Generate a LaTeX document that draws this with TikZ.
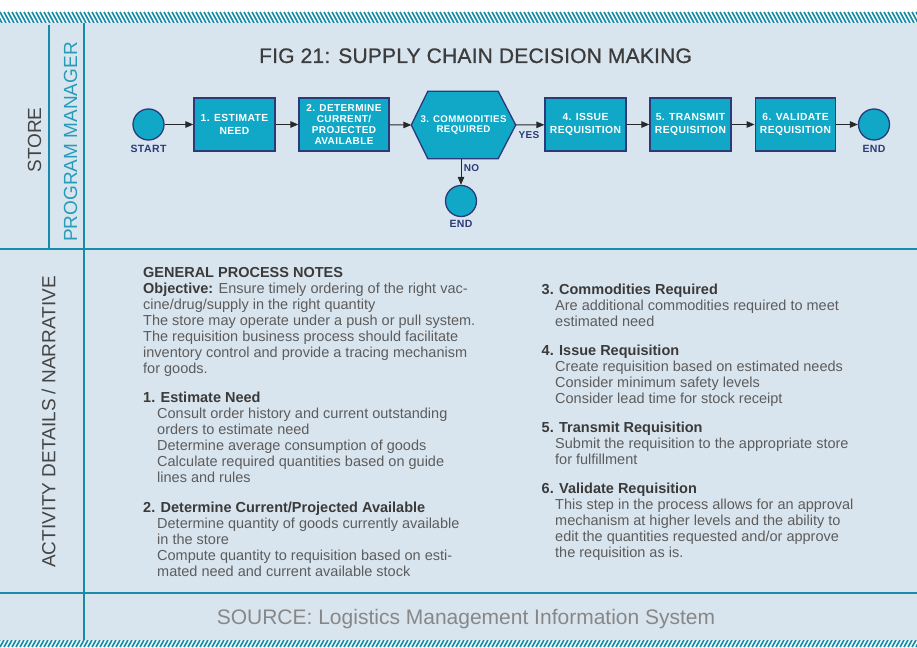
\documentclass[tikz,border=0pt]{standalone}
\usepackage{fontspec}
\setmainfont{Liberation Sans}
\newfontfamily\boxfont[LetterSpace=4]{Liberation Sans}
\newfontfamily\titlefont[LetterSpace=1.0,FakeBold=0.8]{Liberation Sans}
\usetikzlibrary{arrows.meta}
\definecolor{bgblue}{RGB}{217,229,238}
\definecolor{lineteal}{RGB}{22,140,168}
\definecolor{pmteal}{RGB}{40,155,185}
\definecolor{nodefill}{RGB}{16,168,198}
\definecolor{navy}{RGB}{44,58,122}
\definecolor{labelgray}{RGB}{68,68,68}
\definecolor{titlegray}{RGB}{60,60,60}
\definecolor{headgray}{RGB}{58,58,58}
\definecolor{bodygray}{RGB}{92,92,92}
\definecolor{srcgray}{RGB}{135,135,135}
\definecolor{arrowdark}{RGB}{40,40,40}
\begin{document}
\begin{tikzpicture}[x=1pt,y=-1pt,
  hatchline/.style={draw=lineteal, line width=1.7pt},
  gridline/.style={draw=lineteal, line width=2pt},
  lanelabel/.style={rotate=90, inner sep=0, font=\fontsize{19}{22}\selectfont},
  stepbox/.style={rectangle, draw=navy, fill=nodefill, line width=1.3pt, text=white,
    font=\boxfont\bfseries\fontsize{10.3}{12.7}\selectfont, align=center,
    minimum height=53, inner sep=0},
  endpoint/.style={circle, draw=navy, fill=nodefill, line width=1.3pt, minimum size=31, inner sep=0},
  tag/.style={inner sep=0, text=navy, font=\boxfont\bfseries\fontsize{10.5}{12}\selectfont},
  flow/.style={draw=arrowdark, line width=1pt, -{Triangle[length=8pt,width=6.5pt]}},
  body/.style={anchor=base west, inner sep=0, text=bodygray, font=\fontsize{14.5}{16}\selectfont},
  head/.style={body, text=headgray, font=\bfseries\fontsize{14.5}{16}\selectfont}
]
\useasboundingbox (0,0) rectangle (917,647);
\fill[white] (0,0) rectangle (917,647);
\fill[bgblue] (0,23) rectangle (917,640);
% hatched bands
\begin{scope}
  \clip (0,12) rectangle (917,23);
  \foreach \i in {-4,...,232} \draw[hatchline] (4*\i,12) -- (4*\i+6,23);
\end{scope}
\begin{scope}
  \clip (0,640) rectangle (917,647);
  \foreach \i in {-4,...,232} \draw[hatchline] (4*\i+4,640) -- (4*\i,647);
\end{scope}
% grid lines
\draw[gridline] (49,25) -- (49,249);
\draw[gridline] (84,23) -- (84,640);
\draw[gridline] (0,249) -- (917,249);
\draw[gridline] (0,593) -- (917,593);
% lane labels
\node[lanelabel, text=labelgray] (store) at (34.5,140) {STORE};
\node[lanelabel, text=pmteal] (pm) at (70.5,142) {PROGRAM MANAGER};
\node[lanelabel, text=labelgray] (act) at (48.5,422) {ACTIVITY DETAILS / NARRATIVE};
% title
\node[anchor=base, inner sep=0, text=titlegray, font=\titlefont\fontsize{21}{25}\selectfont] (title) at (475.5,63) {FIG 21: SUPPLY CHAIN DECISION MAKING};
% flow
\node[endpoint] (start) at (148.5,124.5) {};
\node[tag] (startlbl) at (148.5,149) {START};
\node[stepbox, minimum width=81] (b1) at (234.5,124.5) {1. ESTIMATE\\NEED};
\node[stepbox, minimum width=90, font=\boxfont\bfseries\fontsize{10}{11}\selectfont] (b2) at (344,124.5) {2. DETERMINE\\CURRENT/\\PROJECTED\\AVAILABLE};
\node[minimum width=104, minimum height=67, inner sep=0] (hex) at (463.5,125) {};
\draw[draw=navy, fill=nodefill, line width=1.3pt] (hex.west) -- ([xshift=16.5pt]hex.north west) -- ([xshift=-17.5pt]hex.north east) -- (hex.east) -- ([xshift=-17.5pt]hex.south east) -- ([xshift=16.5pt]hex.south west) -- cycle;
\node[text=white, align=center, inner sep=0, font=\boxfont\bfseries\fontsize{9.7}{10.7}\selectfont] (hextext) at (hex) {3. COMMODITIES\\REQUIRED};
\node[stepbox, minimum width=81] (b4) at (585.5,124.5) {4. ISSUE\\REQUISITION};
\node[stepbox, minimum width=81] (b5) at (690.5,124.5) {5. TRANSMIT\\REQUISITION};
\node[stepbox, minimum width=80.5] (b6) at (795.5,124.5) {6. VALIDATE\\REQUISITION};
\node[endpoint] (endr) at (874,124.5) {};
\node[tag] (endrlbl) at (874,149) {END};
\node[endpoint] (endb) at (461,201) {};
\node[tag] (endblbl) at (461,224) {END};
\node[tag, font=\boxfont\bfseries\fontsize{10}{12}\selectfont] (nolbl) at (471.5,168) {NO};
\node[tag, font=\boxfont\bfseries\fontsize{10}{12}\selectfont] (yeslbl) at (529,135) {YES};
\draw[flow] (start) -- (b1);
\draw[flow] (b1) -- (b2);
\draw[flow] (b2) -- (hex.west);
\draw[flow] (hex.east) -- (b4);
\draw[flow] (b4) -- (b5);
\draw[flow] (b5) -- (b6);
\draw[flow] (b6) -- (endr);
\draw[flow] (hex.south -| endb) -- (endb.north);
% left column notes
\node[head] (g0) at (143,277.5) {GENERAL PROCESS NOTES};
\node[body] (g1) at (143,293.5) {\textcolor{headgray}{\bfseries Objective:} Ensure timely ordering of the right vac-};
\node[body] (g2) at (143,309.5) {cine/drug/supply in the right quantity};
\node[body] (g3) at (143,325.5) {The store may operate under a push or pull system.};
\node[body] (g4) at (143,341.5) {The requisition business process should facilitate};
\node[body] (g5) at (143,357.5) {inventory control and provide a tracing mechanism};
\node[body] (g6) at (143,373.5) {for goods.};
\node[head] (e0) at (143,402.5) {1. Estimate Need};
\node[body] (e1) at (157,418.5) {Consult order history and current outstanding};
\node[body] (e2) at (157,434.5) {orders to estimate need};
\node[body] (e3) at (157,450.5) {Determine average consumption of goods};
\node[body] (e4) at (157,466.5) {Calculate required quantities based on guide};
\node[body] (e5) at (157,482.5) {lines and rules};
\node[head] (d0) at (143,512.5) {2. Determine Current/Projected Available};
\node[body] (d1) at (157,528.5) {Determine quantity of goods currently available};
\node[body] (d2) at (157,544.5) {in the store};
\node[body] (d3) at (157,560.5) {Compute quantity to requisition based on esti-};
\node[body] (d4) at (157,576.5) {mated need and current available stock};
% right column notes
\node[head] (c0) at (541.5,294) {3. Commodities Required};
\node[body] (c1) at (555,310) {Are additional commodities required to meet};
\node[body] (c2) at (555,326) {estimated need};
\node[head] (i0) at (541.5,355) {4. Issue Requisition};
\node[body] (i1) at (555,371) {Create requisition based on estimated needs};
\node[body] (i2) at (555,387) {Consider minimum safety levels};
\node[body] (i3) at (555,403) {Consider lead time for stock receipt};
\node[head] (t0) at (541.5,432) {5. Transmit Requisition};
\node[body] (t1) at (555,448) {Submit the requisition to the appropriate store};
\node[body] (t2) at (555,464) {for fulfillment};
\node[head] (v0) at (541.5,493) {6. Validate Requisition};
\node[body] (v1) at (555,509) {This step in the process allows for an approval};
\node[body] (v2) at (555,525) {mechanism at higher levels and the ability to};
\node[body] (v3) at (555,541) {edit the quantities requested and/or approve};
\node[body] (v4) at (555,557) {the requisition as is.};
% source
\node[anchor=base, inner sep=0, text=srcgray, font=\fontsize{21}{25}\selectfont] (src) at (466,624) {SOURCE: Logistics Management Information System};
\end{tikzpicture}
\end{document}
